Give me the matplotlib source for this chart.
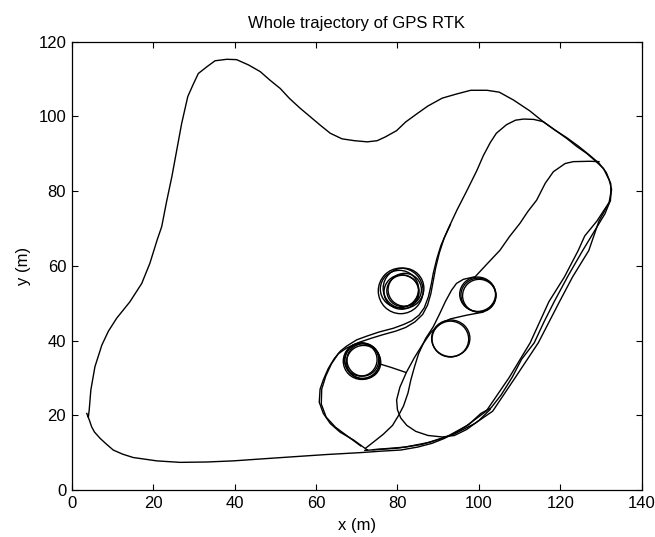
import matplotlib
matplotlib.use("Agg")
import matplotlib.pyplot as plt
from matplotlib.patches import Ellipse

plt.rcParams['font.family'] = ['Liberation Sans', 'DejaVu Sans']

# outer loop around the whole site (x, y in metres)
outer_x = [3.7, 4.3, 4.9, 5.6, 7.0, 8.6, 10.2, 12.5, 15.1, 20.9, 26.6, 33.2, 39.7, 46.3, 54.4,
           62.6, 70.8, 76.0, 80.8, 85.0, 88.5, 91.5, 94.5, 97.5, 100.5, 103.0, 105.5, 108.2, 110.5,
           113.6, 116.0, 118.5, 122.0, 125.5, 128.5, 131.0, 132.3, 132.6, 132.0, 130.6, 128.5,
           126.5, 124.0, 121.6, 118.5, 115.8, 112.5, 108.5, 105.0, 102.0, 98.0, 94.5, 91.0, 87.5,
           84.9, 82.0, 79.8, 77.0, 75.0, 72.6, 69.5, 66.4, 63.5, 61.0, 58.5, 56.1, 53.5, 51.2,
           48.7, 46.3, 43.4, 40.5, 38.1, 35.2, 33.2, 31.1, 29.8, 28.5, 27.0, 25.8, 24.6, 23.3,
           22.1, 21.0, 20.0, 19.2, 17.2, 14.3, 11.05, 9.0, 7.4, 5.7, 4.7, 4.3, 4.1]
outer_y = [20.5, 18.8, 16.9, 15.5, 13.8, 12.2, 10.7, 9.6, 8.7, 7.8, 7.4, 7.5, 7.8, 8.3, 8.9,
           9.5, 10.0, 10.4, 10.7, 11.5, 12.5, 13.8, 15.5, 17.5, 20.5, 22.0, 25.5, 30.2, 35.0,
           39.4, 45.0, 50.4, 57.5, 64.1, 69.5, 74.0, 77.5, 80.5, 83.0, 86.1, 88.2,
           90.1, 92.0, 94.1, 96.5, 98.6, 101.5, 104.4, 106.5, 107.0, 107.0, 106.0, 104.9, 102.8,
           100.8, 98.5, 96.2, 94.5, 93.5, 93.2, 93.5, 94.0, 95.5, 97.7, 100.0, 102.2, 104.8, 107.5,
           109.7, 112.0, 113.8, 115.2, 115.3, 114.9, 113.3, 111.5, 108.5, 105.3, 98.1, 91.0, 83.9, 77.2,
           70.5, 67.0, 63.5, 60.7, 55.3, 50.4, 46.0, 42.5, 38.8, 33.0, 26.8, 21.5, 19.6]

# left lobe, S bend past the circles, top loop and back down the right side
lobe_x = [72.5, 69.2, 65.9, 63.5, 61.8, 60.8, 61.0, 61.8, 63.0, 64.5, 66.0, 67.5, 70.0, 72.5,
          75.5, 79.0, 81.5, 83.5, 85.3, 86.6, 87.6, 88.3, 88.8, 89.7, 90.7, 92.5, 94.6, 97.0,
          99.5, 101.1, 102.8, 104.3, 106.8, 109.0, 111.0, 113.5, 115.8, 118.5, 121.6, 124.5,
          127.0, 129.5, 131.3, 132.4, 132.4, 132.0, 129.0, 126.0, 124.4, 121.0, 117.2, 112.6,
          107.5, 101.8, 97.0, 92.0, 86.0, 80.0, 72.0]
lobe_y = [10.8, 13.4, 15.5, 17.8, 20.5, 23.5, 27.0, 29.5, 32.5, 35.2, 37.2, 38.5, 40.2, 41.2,
          42.3, 43.3, 44.3, 45.3, 46.8, 48.8, 51.7, 55.0, 58.0, 62.0, 65.5, 70.0, 74.9, 80.0,
          85.5, 89.5, 93.0, 95.5, 97.8, 99.0, 99.3, 99.2, 98.6, 96.5, 94.3, 92.0,
          89.8, 87.5, 85.0, 82.0, 79.5, 77.0, 72.0, 68.0, 64.1, 57.0, 50.4, 39.4,
          30.2, 21.1, 17.2, 14.2, 12.2, 11.2, 10.6]

# second pass over the left lobe and S bend, rejoining the first one
lobe2_x = [71.0, 68.0, 64.8, 62.5, 61.3, 61.4, 62.4, 63.8, 65.5, 67.5, 70.5, 73.5, 76.5, 79.5,
           82.0, 84.3, 86.2, 87.4, 88.2, 88.8, 89.4, 90.3, 91.5, 93.0]
lobe2_y = [11.8, 14.2, 16.8, 19.5, 23.0, 27.0, 30.5, 33.8, 36.5, 38.0, 39.5, 40.6, 41.6, 42.5,
           43.5, 45.0, 47.0, 49.5, 52.5, 56.0, 59.5, 63.5, 67.5, 71.0]

# second right-hand descent
right2_x = [132.3, 129.5, 127.0, 123.0, 119.8, 114.6, 109.0, 103.4, 99.0, 94.0, 88.0, 82.0, 74.0]
right2_y = [77.5, 72.0, 64.1, 57.0, 50.4, 39.4, 30.2, 21.1, 17.8, 15.0, 12.8, 11.5, 10.8]

# inner loop from the top right down to the bottom cusp
inner_x = [129.5, 127.3, 123.2, 121.2, 118.3, 116.3, 114.2, 112.0, 110.1, 107.5, 105.2, 102.0,
           99.1, 96.2, 94.5, 93.3, 91.8, 90.3, 88.8, 86.9, 85.2, 84.2, 83.3, 82.6, 81.5, 80.3,
           78.8, 76.5, 74.3, 72.3]
inner_y = [87.9, 88.0, 87.9, 87.4, 85.2, 82.1, 77.6, 74.5, 71.4, 67.8, 64.2, 60.5,
           57.1, 56.4, 55.3, 53.5, 50.5, 47.0, 43.7, 40.5, 36.5, 33.0, 29.5, 26.0, 22.5, 20.0,
           17.3, 14.9, 13.0, 11.3]

# exit from the right circle down to the bottom right
exit_x = [101.0, 97.0, 93.0, 90.5, 88.3, 86.2, 84.2, 82.2, 80.6, 79.8, 80.0, 80.8, 82.3, 84.5,
          87.5, 91.0, 94.0, 97.0, 100.0, 102.8]
exit_y = [47.6, 46.8, 45.8, 44.5, 42.3, 39.0, 35.5, 31.5, 27.5, 24.1, 21.5, 19.3, 17.3, 15.7,
          14.6, 14.2, 14.6, 16.2, 18.6, 21.6]

# short link leaving the lower-left circle
link_x = [75.5, 78.5, 82.0]
link_y = [33.8, 32.8, 31.5]

# circles driven in place: centre x, centre y, width, height
circ_cx = [80.8, 81.5, 81.3, 81.0, 81.8, 80.5,
           99.9, 100.1, 99.7,
           93.1, 93.0,
           71.4, 71.0, 71.7, 71.2, 71.5]
circ_cy = [53.3, 54.0, 53.3, 53.0, 53.6, 53.8,
           52.2, 52.0, 52.4,
           40.6, 40.4,
           34.6, 34.9, 34.2, 34.5, 34.8]
circ_w = [11.0, 10.0, 7.8, 8.6, 8.2, 9.4,
          8.6, 8.2, 8.8,
          9.4, 9.0,
          8.6, 8.0, 8.4, 9.0, 7.8]
circ_h = [12.2, 10.8, 8.4, 9.2, 8.8, 10.0,
          9.0, 8.8, 9.2,
          9.8, 9.6,
          9.4, 8.8, 9.0, 9.8, 8.6]

fig = plt.figure(figsize=(6.55, 5.37), dpi=100)
ax = fig.add_axes([0.1095, 0.0875, 0.8702, 0.8348])

lw = 1.0
for xs, ys in [(outer_x, outer_y), (lobe_x, lobe_y), (lobe2_x, lobe2_y),
               (right2_x, right2_y), (inner_x, inner_y), (exit_x, exit_y),
               (link_x, link_y)]:
    ax.plot(xs, ys, color='black', lw=lw)

for cx, cy, w, h in zip(circ_cx, circ_cy, circ_w, circ_h):
    ax.add_patch(Ellipse((cx, cy), w, h, fill=False, edgecolor='black', lw=lw))

ax.set_xlim(0, 140)
ax.set_ylim(0, 120)
ax.set_xticks(range(0, 141, 20))
ax.set_yticks(range(0, 121, 20))
ax.tick_params(direction='in', top=True, right=True, length=4, width=0.8,
               labelsize=12, pad=4)
for s in ax.spines.values():
    s.set_linewidth(0.9)

ax.set_title('Whole trajectory of GPS RTK', fontsize=12, pad=10)
ax.set_xlabel('x (m)', fontsize=12, labelpad=5)
ax.set_ylabel('y (m)', fontsize=12, labelpad=5)

fig.savefig('out.png', dpi=100)
